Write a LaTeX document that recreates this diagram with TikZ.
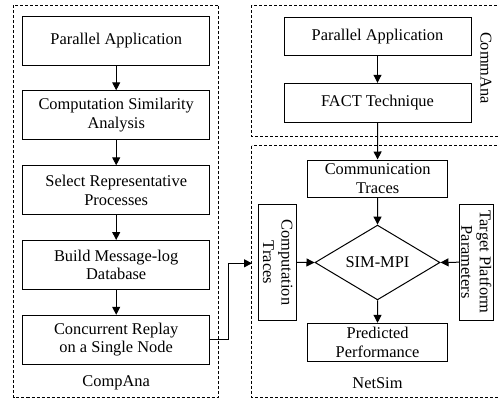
\documentclass[tikz,border=0pt]{standalone}
\usepackage{fontspec}
\setmainfont{Liberation Serif}
\usetikzlibrary{shapes.geometric,arrows.meta}
\begin{document}
\begin{tikzpicture}[x=1pt,y=-1pt,
  every node/.style={font=\fontsize{16.4}{18.5}\selectfont},
  box/.style={draw,line width=1pt,align=center,inner sep=0pt},
  frame/.style={draw,line width=0.75pt,dash pattern=on 3pt off 2pt},
  arr/.style={draw,line width=1pt,-{Triangle[length=8pt,width=8pt]}},
  lbl/.style={inner sep=0pt}]
\clip (0,0) rectangle (498,399);
\fill[white] (0,0) rectangle (498,399);
% frames
\draw[frame] (13.5,5) rectangle (218.5,397);
\draw[frame] (251.5,5) rectangle (510,136.5);
\draw[frame] (251.5,145.5) rectangle (510,397);
% left column
\node[box,minimum width=187pt,minimum height=49pt] (pa1) at (116.2,40.5) {Parallel Application};
\node[box,minimum width=187pt,minimum height=49pt] (csa) at (116.2,115.3) {Computation Similarity\\Analysis};
\node[box,minimum width=187pt,minimum height=49pt] (srp) at (116.2,190.3) {Select Representative\\Processes};
\node[box,minimum width=187pt,minimum height=49pt] (bmd) at (116.2,265) {Build Message-log\\Database};
\node[box,minimum width=187pt,minimum height=49pt] (crs) at (116.2,339.8) {Concurrent Replay\\on a Single Node};
\node[lbl] (compana) at (116.2,383) {CompAna};
% right top
\node[box,minimum width=187pt,minimum height=38.5pt] (pa2) at (377.5,36.5) {Parallel Application};
\node[box,minimum width=187pt,minimum height=39pt] (fact) at (377.5,102.8) {FACT Technique};
\node[lbl,rotate=-90] (commana) at (486,68) {CommAna};
% netsim
\node[box,minimum width=140.7pt,minimum height=37pt] (ct) at (377.6,178.5) {Communication\\Traces};
\node[draw,line width=1pt,diamond,minimum width=125pt,minimum height=63pt,inner sep=0pt] (sim) at (377.5,262.5) {SIM-MPI};
\node[box,rotate=-90,minimum width=116.2pt,minimum height=37.3pt] (comp) at (277.6,262.4) {Computation\\Traces};
\node[box,rotate=-90,minimum width=115.7pt,minimum height=34pt] (tpp) at (476.3,262.2) {Target Platform\\Parameters};
\node[box,minimum width=140.7pt,minimum height=37.7pt] (pp) at (377.6,342.2) {Predicted\\Performance};
\node[lbl] (netsim) at (377.5,383) {NetSim};
\coordinate (netin) at (252,263.3);
% arrows
\draw[arr] (pa1) -- (csa);
\draw[arr] (csa) -- (srp);
\draw[arr] (srp) -- (bmd);
\draw[arr] (bmd) -- (crs);
\draw[arr] (pa2) -- (fact);
\draw[arr] (fact) -- (ct);
\draw[arr] (ct) -- (sim.north);
\draw[arr] (comp.north) -- (sim.west);
\draw[arr] (tpp.south) -- (sim.east);
\draw[arr] (sim.south) -- (pp);
\draw[arr] (crs.east) -- ++(18,0) |- (netin);
\end{tikzpicture}
\end{document}
